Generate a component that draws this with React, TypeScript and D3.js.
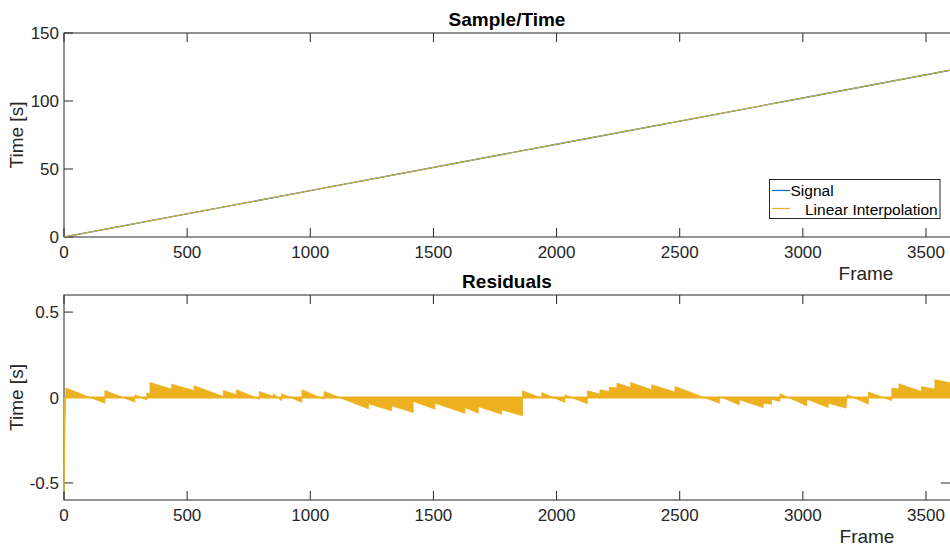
import React from "react";
import * as d3 from "d3";

// ---- data ----
const signalFrames = [0, 1000, 2000, 3000, 3650];
const signalTimes = [0, 34.1, 68.2, 102.2, 124.4];
const interpFrames = [0, 1000, 2000, 3000, 3650];
const interpTimes = [0, 34.1, 68.2, 102.2, 124.4];

const resFrames = [
  0, 4, 7, 8,
  166, 166, 288, 288, 336, 336, 349, 349, 437, 437, 528, 528, 647, 647,
  701, 701, 793, 793, 850, 850, 884, 884, 966, 966, 1056, 1056, 1236, 1236,
  1331, 1331, 1418, 1418, 1506, 1506, 1628, 1628, 1682, 1682, 1777, 1777,
  1862, 1862, 1940, 1940, 2034, 2034, 2125, 2125, 2176, 2176, 2214, 2214,
  2245, 2245, 2301, 2301, 2386, 2386, 2481, 2481, 2661, 2661, 2742, 2742,
  2839, 2839, 2873, 2873, 2907, 2907, 3016, 3016, 3103, 3103, 3175, 3180,
  3266, 3266, 3361, 3361, 3390, 3390, 3482, 3482, 3536, 3536, 3650,
];
const resValues = [
  -0.55, -0.15, 0, 0.055,
  -0.033, 0.041, -0.027, 0.016, -0.015, 0.026, 0.02, 0.088, 0.049, 0.078,
  0.041, 0.069, 0.006, 0.041, 0.016, 0.045, -0.01, 0.035, 0.006, 0.022,
  -0.02, 0.022, -0.029, 0.045, -0.01, 0.035, -0.066, -0.037, -0.078, -0.049,
  -0.088, -0.023, -0.068, -0.033, -0.092, -0.059, -0.092, -0.053, -0.098,
  -0.072, -0.107, 0.039, -0.004, 0.029, -0.029, 0.016, -0.037, 0.039, 0.02,
  0.045, 0.035, 0.061, 0.055, 0.084, 0.059, 0.088, 0.045, 0.074, 0.032,
  0.064, -0.033, 0.006, -0.043, -0.013, -0.059, -0.033, -0.04, -0.01,
  -0.023, 0.022, -0.049, -0.01, -0.059, -0.033, -0.062, 0.016, -0.039,
  0.032, -0.018, 0.055, 0.05, 0.08, 0.035, 0.064, 0.049, 0.104, 0.072,
];

const xTicks = [0, 500, 1000, 1500, 2000, 2500, 3000, 3500];
const topYTicks = [0, 50, 100, 150];
const botYTicks = [-0.5, 0, 0.5];
const botYTickLabels = ["-0.5", "0", "0.5"];

const FONT = "'Liberation Sans', Arial, Helvetica, sans-serif";
const AX = "#262626";
const BLUE = "#0072BD";
const YEL = "#EDB120";

const W = 950;
const H = 547;
const L = 64;
const R = 1668;
const TICK = 9;

export default function App() {
  const x = d3.scaleLinear().domain([0, 3500]).range([L, 926]);
  const yTop = d3.scaleLinear().domain([0, 150]).range([237, 33]);
  const yBot = d3.scaleLinear().domain([-0.6, 0.6]).range([500, 295]);

  const sigPts = signalFrames.map((f, i) => [f, signalTimes[i]] as [number, number]);
  const intPts = interpFrames.map((f, i) => [f, interpTimes[i]] as [number, number]);
  const topLine = d3
    .line<[number, number]>()
    .x((d) => x(d[0]))
    .y((d) => yTop(d[1]));

  const resPts = resFrames.map((f, i) => [f, resValues[i]] as [number, number]);
  const resArea = d3
    .area<[number, number]>()
    .x((d) => x(d[0]))
    .y0(yBot(0))
    .y1((d) => yBot(d[1]));

  const axesBox = (yS: d3.ScaleLinear<number, number>, top: number, bottom: number, yt: number[], ylabels: string[]) => (
    <g>
      <rect x={L} y={top} width={R - L} height={bottom - top} fill="none" stroke={AX} strokeWidth={1} />
      {xTicks.map((t) => (
        <g key={"xt" + t}>
          <line x1={x(t)} x2={x(t)} y1={bottom} y2={bottom - TICK} stroke={AX} />
          <line x1={x(t)} x2={x(t)} y1={top} y2={top + TICK} stroke={AX} />
          <text x={x(t)} y={bottom + 21} textAnchor="middle" fontSize={17} fill={AX} fontFamily={FONT}>
            {String(t)}
          </text>
        </g>
      ))}
      {yt.map((t, i) => (
        <g key={"yt" + t}>
          <line x1={L} x2={L + TICK} y1={yS(t)} y2={yS(t)} stroke={AX} />
          <text x={59} y={yS(t) + 6} textAnchor="end" fontSize={17} fill={AX} fontFamily={FONT}>
            {ylabels[i]}
          </text>
        </g>
      ))}
    </g>
  );

  return (
    <svg width={W} height={H} style={{ position: "absolute", left: 0, top: 0, background: "#fff" }}>
      <rect x={0} y={0} width={W} height={H} fill="#fff" />
      <defs>
        <clipPath id="clipTop">
          <rect x={L} y={33} width={R - L} height={204} />
        </clipPath>
        <clipPath id="clipBot">
          <rect x={L - 2} y={295} width={R - L} height={205} />
        </clipPath>
      </defs>

      {/* top axes */}
      {axesBox(yTop, 33, 237, topYTicks, topYTicks.map(String))}
      <g clipPath="url(#clipTop)">
        <path d={topLine(sigPts) || ""} fill="none" stroke={BLUE} strokeWidth={1.3} />
        <path d={topLine(intPts) || ""} fill="none" stroke={YEL} strokeWidth={1} />
      </g>
      <text x={507} y={26} textAnchor="middle" fontSize={19} fontWeight="bold" fill="#000" fontFamily={FONT}>
        Sample/Time
      </text>
      <text
        transform={`translate(23,135) rotate(-90)`}
        textAnchor="middle"
        fontSize={19}
        fill={AX}
        fontFamily={FONT}
      >
        Time [s]
      </text>
      <text x={866} y={280} textAnchor="middle" fontSize={19} fill={AX} fontFamily={FONT}>
        Frame
      </text>

      {/* legend */}
      <g>
        <rect x={769.5} y={179.5} width={170.5} height={39} fill="#fff" stroke={AX} strokeWidth={1} />
        <line x1={772} x2={790} y1={190.5} y2={190.5} stroke={BLUE} strokeWidth={1.2} />
        <line x1={772} x2={790} y1={208.5} y2={208.5} stroke={YEL} strokeWidth={1.2} />
        <text x={790.5} y={196} fontSize={15.5} fill="#000" fontFamily={FONT}>
          Signal
        </text>
        <text x={805} y={214.5} fontSize={15.5} fill="#000" fontFamily={FONT}>
          Linear Interpolation
        </text>
      </g>

      {/* bottom axes */}
      {axesBox(yBot, 295, 500, botYTicks, botYTickLabels)}
      <g clipPath="url(#clipBot)">
        <path d={resArea(resPts) || ""} fill={YEL} stroke={YEL} strokeWidth={0.8} />
        <line x1={x(7)} x2={R} y1={yBot(0)} y2={yBot(0)} stroke={YEL} strokeWidth={2} />
      </g>
      <text x={507} y={288} textAnchor="middle" fontSize={19} fontWeight="bold" fill="#000" fontFamily={FONT}>
        Residuals
      </text>
      <text
        transform={`translate(23,397.5) rotate(-90)`}
        textAnchor="middle"
        fontSize={19}
        fill={AX}
        fontFamily={FONT}
      >
        Time [s]
      </text>
      <text x={867} y={543} textAnchor="middle" fontSize={19} fill={AX} fontFamily={FONT}>
        Frame
      </text>
      <line x1={941} x2={950} y1={483} y2={483} stroke={AX} strokeWidth={1} />
    </svg>
  );
}
